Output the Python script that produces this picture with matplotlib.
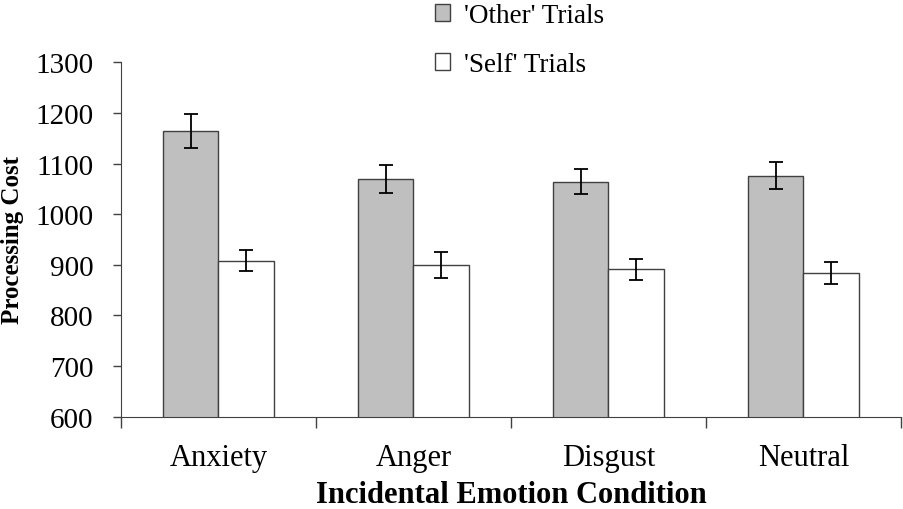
import numpy as np
import matplotlib
matplotlib.use('Agg')
import matplotlib.pyplot as plt

plt.rcParams['font.family'] = ['Liberation Serif', 'DejaVu Serif']

#data
conditions = ['Anxiety', 'Anger', 'Disgust', 'Neutral']
other_cost = [1164, 1069, 1064, 1076]
other_err = [34, 28, 25, 27]
self_cost = [908, 900, 891, 884]
self_err = [21, 26, 21, 22]
yticks = [600, 700, 800, 900, 1000, 1100, 1200, 1300]

fig = plt.figure(figsize=(9.04, 5.1), dpi=100)
ax = fig.add_axes([0.1338, 0.181, 0.8628, 0.695])

x = np.arange(len(conditions))
w = 1 / 3.5
edge = '#404040'
err_style = dict(ecolor='black', elinewidth=1.3, capsize=5, capthick=1.3)

ax.bar(x - w / 2, other_cost, w, color='#bfbfbf', edgecolor=edge, linewidth=1.0,
       yerr=other_err, error_kw=err_style, label="'Other' Trials")
ax.bar(x + w / 2, self_cost, w, color='white', edgecolor=edge, linewidth=1.0,
       yerr=self_err, error_kw=err_style, label="'Self' Trials")

ax.set_xlim(-0.5, 3.5)
ax.set_ylim(600, 1300)
ax.set_yticks(yticks)
ax.tick_params(axis='y', labelsize=21, length=6, width=1, color=edge, pad=14)

#boundary ticks without labels, labels centred on categories
ax.set_xticks(np.arange(-0.5, 4.0, 1.0))
ax.set_xticklabels([])
ax.set_xticks(x, minor=True)
ax.set_xticklabels(conditions, minor=True, fontsize=22)
ax.tick_params(axis='x', which='major', length=8, width=1, color=edge, direction='out')
ax.tick_params(axis='x', which='minor', length=0, pad=19)

ax.spines['right'].set_visible(False)
ax.spines['top'].set_visible(False)
ax.spines['left'].set_color(edge)
ax.spines['bottom'].set_color(edge)

ax.set_ylabel('Processing Cost', fontsize=18, fontweight='bold', labelpad=8)
ax.set_xlabel('Incidental Emotion Condition', fontsize=22, fontweight='bold', labelpad=6)

fig.legend(loc='upper left', bbox_to_anchor=(0.454, 1.04), frameon=False, fontsize=19.5,
           handlelength=0.58, handleheight=0.58, handletextpad=0.5, labelspacing=0.88)

plt.savefig('out.png', dpi=100)
